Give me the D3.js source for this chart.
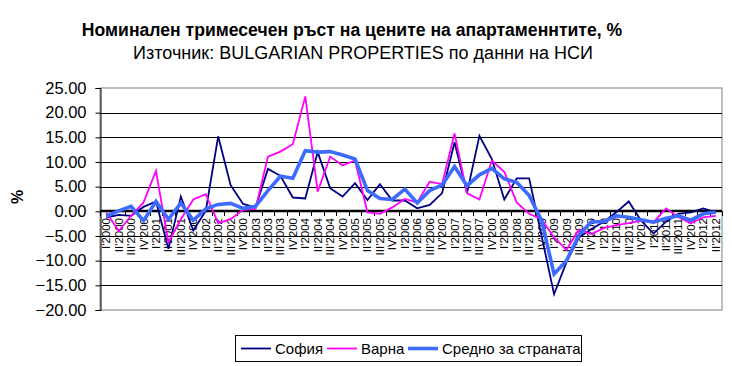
<!DOCTYPE html>
<html>
<head>
<meta charset="utf-8">
<script src="https://cdn.jsdelivr.net/npm/d3@7"></script>
<style>
  html, body { margin: 0; padding: 0; background: #fff; }
  svg { display: block; font-family: "Liberation Sans", Arial, sans-serif; }
</style>
</head>
<body>
<svg id="chart" width="732" height="366"></svg>
<script>
// ---- data ----
const categories = [
  "I'2000","II'2000","III'2000","IV'200",
  "I'2001","II'2001","III'2001","IV'200",
  "I'2002","II'2002","III'2002","IV'200",
  "I'2003","II'2003","III'2003","IV'200",
  "I'2004","II'2004","III'2004","IV'200",
  "I'2005","II'2005","III'2005","IV'200",
  "I'2006","II'2006","III'2006","IV'200",
  "I'2007","II'2007","III'2007","IV'200",
  "I'2008","II'2008","III'2008","IV'200",
  "I'2009","II'2009","III'2009","IV'200",
  "I'2010","II'2010","III'2010","IV'201",
  "I'2011","II'2011","III'2011","IV'201",
  "I'2012","II'2012"
];
const sofia = [
  -1.3, -0.7, -0.9, 0.9, 2.0, -7.6, 3.0, -3.9, 0.1, 15.2,
  5.3, 1.5, 0.8, 8.6, 7.2, 2.8, 2.6, 12.0, 4.7, 3.0,
  5.7, 2.3, 5.5, 2.2, 2.2, 0.6, 1.3, 3.7, 14.0, 3.7,
  15.3, 10.6, 2.4, 6.7, 6.7, -5.0, -16.8, -10.3, -5.3, -3.6,
  -2.1, -0.2, 2.0, -1.9, -4.5, -2.1, -0.5, -0.2, 0.6, -0.2
];
const varna = [
  -0.2, -4.0, -0.9, 1.8, 8.2, -6.3, -1.6, 2.4, 3.5, -2.4,
  -1.6, 0.3, 0.5, 11.1, 12.1, 13.6, 23.3, 4.0, 11.1, 9.3,
  10.3, -0.2, -0.5, 0.8, 2.5, 1.8, 6.0, 5.5, 15.8, 3.7,
  2.4, 10.3, 8.0, 1.8, -0.5, -1.6, -5.3, -7.8, -3.7, -4.6,
  -3.4, -2.8, -2.4, -1.9, -2.2, 0.6, -1.2, -2.4, -1.2, -0.9
];
const average = [
  -1.0, 0.1, 1.0, -1.9, 2.0, -1.6, 1.7, -1.8, 0.5, 1.4,
  1.6, 0.6, 1.0, 4.2, 7.1, 6.7, 12.3, 12.0, 12.1, 11.4,
  10.6, 4.2, 2.6, 2.4, 4.5, 1.7, 4.2, 5.3, 9.1, 5.2,
  7.4, 8.7, 6.6, 5.9, 3.2, -1.9, -12.7, -10.0, -4.8, -2.1,
  -2.1, -0.9, -1.2, -1.7, -2.2, -1.4, -0.9, -1.8, -0.5, -0.2
];
const yTicks = [-20, -15, -10, -5, 0, 5, 10, 15, 20, 25];
const seriesNames = ["София", "Варна", "Средно за страната"];
const seriesColors = ["#000080", "#FF00FF", "#3D6BFF"];
const seriesWidths = [1.8, 1.8, 3.6];

// ---- layout ----
const svg = d3.select("#chart");
const pLeft = 100, pRight = 722, pTop = 88, pBottom = 310;

const x = d3.scaleBand().domain(d3.range(categories.length)).range([pLeft, pRight]).padding(0);
const y = d3.scaleLinear().domain([-20, 25]).range([pBottom, pTop]);

// titles
svg.append("text").attr("x", 352).attr("y", 36).attr("text-anchor", "middle")
  .attr("font-size", 17.6).attr("font-weight", "bold").attr("fill", "#000")
  .text("Номинален тримесечен ръст на цените на апартаменнтите, %");
svg.append("text").attr("x", 363).attr("y", 59).attr("text-anchor", "middle")
  .attr("font-size", 18).attr("fill", "#000")
  .text("Източник: BULGARIAN PROPERTIES по данни на НСИ");

// plot border (gray)
svg.append("rect").attr("x", pLeft).attr("y", pTop).attr("width", pRight - pLeft).attr("height", pBottom - pTop)
  .attr("fill", "none").attr("stroke", "#808080").attr("stroke-width", 1);

// gridlines
svg.append("g").selectAll("line").data(yTicks.filter(t => t !== 0 && t !== -20 && t !== 25)).join("line")
  .attr("x1", pLeft).attr("x2", pRight)
  .attr("y1", d => Math.round(y(d)) + 0.5).attr("y2", d => Math.round(y(d)) + 0.5)
  .attr("stroke", "#000").attr("stroke-width", 1);

// y axis
const yAxis = d3.axisLeft(y).tickValues(yTicks).tickFormat(d3.format(".2f")).tickSize(5).tickPadding(9);
const gy = svg.append("g").attr("transform", `translate(${pLeft + 0.5},0)`).call(yAxis);
gy.select(".domain").attr("stroke", "#000");
gy.selectAll(".tick line").attr("stroke", "#000");
gy.selectAll(".tick text").attr("font-size", 16.5).attr("fill", "#000")
  .attr("font-family", "'Liberation Sans', Arial, sans-serif");

// y title
svg.append("text").attr("transform", "translate(23,197) rotate(-90)").attr("text-anchor", "middle")
  .attr("font-size", 16).attr("font-weight", "bold").text("%");

// x axis at zero
const y0 = Math.round(y(0));
svg.append("line").attr("x1", pLeft).attr("x2", pRight).attr("y1", y0).attr("y2", y0)
  .attr("stroke", "#000").attr("stroke-width", 2.5);
const tickPos = d3.range(categories.length + 1).map(i => pLeft + i * x.bandwidth());
svg.append("g").selectAll("line").data(tickPos).join("line")
  .attr("x1", d => Math.round(d) + 0.5).attr("x2", d => Math.round(d) + 0.5)
  .attr("y1", y0).attr("y2", y0 + 5).attr("stroke", "#000").attr("stroke-width", 1);
svg.append("g").selectAll("text").data(categories).join("text")
  .attr("transform", (d, i) => `translate(${x(i) + x.bandwidth() / 2 + 4},${y0 + 7}) rotate(-90)`)
  .attr("text-anchor", "end").attr("font-size", 11.5).attr("fill", "#000")
  .text(d => d);

// lines
const allSeries = [sofia, varna, average];
const line = d3.line().x((d, i) => x(i) + x.bandwidth() / 2).y(d => y(d));
allSeries.forEach((s, k) => {
  svg.append("path").datum(s).attr("d", line)
    .attr("fill", "none").attr("stroke", seriesColors[k]).attr("stroke-width", seriesWidths[k])
    .attr("stroke-linejoin", "miter");
});

// legend
const lg = svg.append("g");
lg.append("rect").attr("x", 235.5).attr("y", 335.5).attr("width", 346).attr("height", 26)
  .attr("fill", "#fff").attr("stroke", "#000").attr("stroke-width", 1);
const legendX = [241, 327, 408];
seriesNames.forEach((n, k) => {
  lg.append("line").attr("x1", legendX[k]).attr("x2", legendX[k] + 30).attr("y1", 348.5).attr("y2", 348.5)
    .attr("stroke", seriesColors[k]).attr("stroke-width", seriesWidths[k]);
  lg.append("text").attr("x", legendX[k] + 34).attr("y", 354).attr("font-size", 15).attr("fill", "#000").text(n);
});
</script>
</body>
</html>
